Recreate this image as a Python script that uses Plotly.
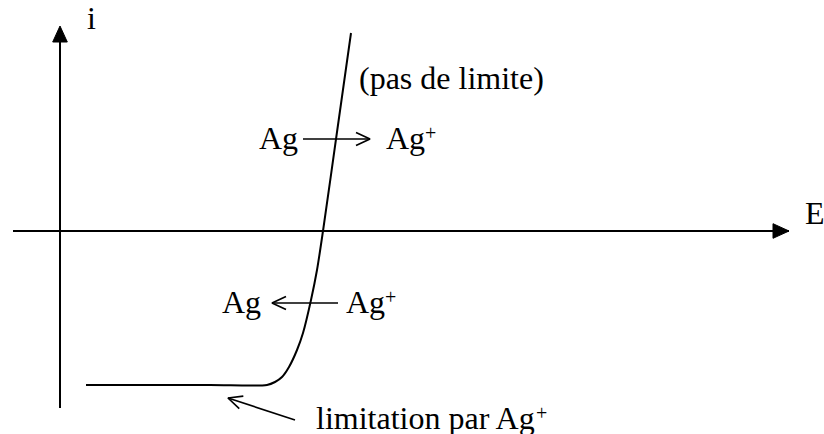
import numpy as np
import plotly.graph_objects as go

# Polarisation curve of the Ag+/Ag couple (E, i in drawing units, origin at the axes crossing)
E_curve = [26, 150, 207, 215, 222, 229, 237, 243, 251, 257, 263, 277, 291]
i_curve = [-154, -154, -154, -151, -146, -136, -119, -102, -69, -39, 0, 99, 198]

# Axis extents
E_axis = [-47, 729]
i_axis = [-177, 203]

# Text labels: (text, x of left edge, baseline y)
label_text = ["i", "E", "(pas de limite)", "Ag", "Ag", "Ag", "Ag", "limitation par Ag"]
label_x = [26, 744, 298, 198, 325, 161, 285, 255]
label_y = [201, 6, 141, 81, 81, -83, -83, -199]

# Charge signs written as superscripts after the Ag+ labels
sup_text = ["+", "+", "+"]
sup_x = [364, 324, 475]
sup_y = [90, -74, -190]

# Reaction arrows (tail -> tip)
arrow_tail_x = [243, 278, 235]
arrow_tail_y = [92, -72, -189]
arrow_tip_x = [310, 212, 168]
arrow_tip_y = [92, -72, -167]

FONT = "Liberation Serif, Times New Roman, serif"
FS = 32
FS_SUP = 20

fig = go.Figure()

# Axes lines
fig.add_trace(go.Scatter(x=E_axis, y=[0, 0], mode="lines",
                         line=dict(color="black", width=2), hoverinfo="skip"))
fig.add_trace(go.Scatter(x=[0, 0], y=i_axis, mode="lines",
                         line=dict(color="black", width=2), hoverinfo="skip"))

# Filled arrow heads on the axes
hl, hw = 16, 7.3
ex = E_axis[1]
fig.add_trace(go.Scatter(x=[ex, ex - hl, ex - hl, ex], y=[0, hw, -hw, 0], mode="lines",
                         fill="toself", fillcolor="black",
                         line=dict(color="black", width=1), hoverinfo="skip"))
iy = i_axis[1] + 2
fig.add_trace(go.Scatter(x=[0, -hw, hw, 0], y=[iy, iy - hl, iy - hl, iy], mode="lines",
                         fill="toself", fillcolor="black",
                         line=dict(color="black", width=1), hoverinfo="skip"))

# i-E curve
fig.add_trace(go.Scatter(x=E_curve, y=i_curve, mode="lines",
                         line=dict(color="black", width=2, shape="spline", smoothing=0.8),
                         hoverinfo="skip"))

# Open-headed arrows
head_len, head_half = 14, 6.5
for tx, ty, px, py in zip(arrow_tail_x, arrow_tail_y, arrow_tip_x, arrow_tip_y):
    d = np.array([px - tx, py - ty], dtype=float)
    d /= np.hypot(*d)
    n = np.array([-d[1], d[0]])
    back = np.array([px, py]) - head_len * d
    a1 = back + head_half * n
    a2 = back - head_half * n
    xs = [tx, px, None, a1[0], px, a2[0]]
    ys = [ty, py, None, a1[1], py, a2[1]]
    fig.add_trace(go.Scatter(x=xs, y=ys, mode="lines",
                             line=dict(color="black", width=1.7), hoverinfo="skip"))


def add_text(t, x, y, size):
    # anchor the text box bottom at the font descent below the baseline
    fig.add_annotation(x=x, y=y, text=t, showarrow=False, xanchor="left", yanchor="bottom",
                       yshift=-0.216 * size, borderpad=0,
                       font=dict(family=FONT, size=size, color="black"))


for t, x, y in zip(label_text, label_x, label_y):
    add_text(t, x, y, FS)
for t, x, y in zip(sup_text, sup_x, sup_y):
    add_text(t, x, y, FS_SUP)

fig.update_layout(
    width=824, height=434,
    margin=dict(l=0, r=0, t=0, b=0),
    paper_bgcolor="white", plot_bgcolor="white",
    showlegend=False,
    xaxis=dict(range=[-60, 764], visible=False, fixedrange=True),
    yaxis=dict(range=[-203, 231], visible=False, fixedrange=True),
)

fig.write_html("out.html", config={"displayModeBar": False})
